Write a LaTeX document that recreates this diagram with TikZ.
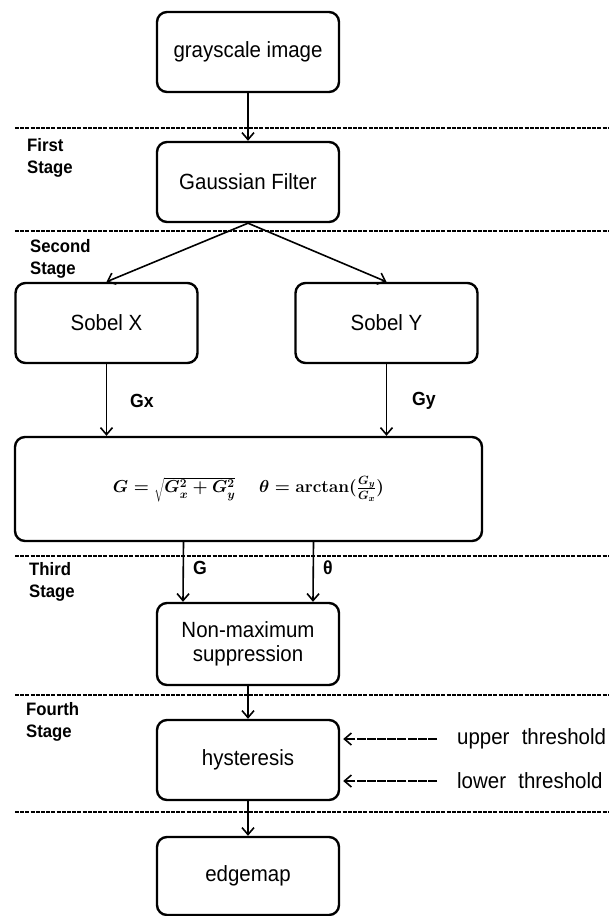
\documentclass[tikz,border=0pt]{standalone}
\usepackage[no-math]{fontspec}
\setmainfont[FakeStretch=0.93]{Liberation Sans}
\usetikzlibrary{arrows.meta,calc}
\begin{document}
\begin{tikzpicture}[x=1pt,y=-1pt,
  box/.style={draw, line width=2.4pt, rounded corners=10pt, minimum width=182pt, minimum height=80pt, inner sep=2pt, align=center, font=\fontsize{22}{24}\selectfont},
  stagelbl/.style={anchor=north west, inner sep=0pt, align=left, font=\bfseries\fontsize{18}{22}\selectfont},
  sep/.style={line width=1.5pt, dash pattern=on 4pt off 1.2pt},
  flow/.style={line width=1.6pt, -{Straight Barb[length=7pt,width=12pt]}},
  thr/.style={line width=1.6pt, dash pattern=on 9pt off 1.2pt, -{Straight Barb[length=7pt,width=12pt]}, shorten >=3pt},
  lbl/.style={font=\bfseries\fontsize{19}{22}\selectfont, inner sep=0pt},
  thrtxt/.style={anchor=west, inner sep=0pt, font=\fontsize{22}{24}\selectfont}
]
\useasboundingbox (0,0) rectangle (609,916);

% separators
\draw[sep] (15,128) -- (609,128);
\draw[sep] (15,231) -- (609,231);
\draw[sep] (15,556) -- (609,556);
\draw[sep] (15,695) -- (609,695);
\draw[sep] (15,812) -- (609,812);

% stage labels
\node[stagelbl] (s1) at (27,138) {First\\Stage};
\node[stagelbl] (s2) at (30,239) {Second\\Stage};
\node[stagelbl] (s3) at (29,562) {Third\\Stage};
\node[stagelbl] (s4) at (26,702) {Fourth\\Stage};

% boxes
\node[box] (gi) at (248,52) {grayscale image};
\node[box] (gf) at (248,182) {Gaussian Filter};
\node[box] (sx) at (106.5,323) {Sobel X};
\node[box] (sy) at (386.5,323) {Sobel Y};
\node[box, minimum width=467pt, minimum height=104pt] (fb) at (248.5,489) {\raisebox{7pt}{\fontsize{18}{22}\selectfont\boldmath$G=\sqrt{G_x^2+G_y^2}\quad\; \theta=\arctan\!\big(\frac{G_y}{G_x}\big)$}};
\node[box, minimum height=82pt] (nm) at (248,644) {Non-maximum\\suppression};
\node[box] (hy) at (248,760) {hysteresis};
\node[box, minimum height=78pt] (em) at (248,876) {edgemap};

% connectors
\draw[flow] (gi.south) -- (gf.north);
\draw[flow] (gf.south) -- (sx.north);
\draw[flow] (gf.south) -- (sy.north);
\draw[flow] (sx.south) -- (sx.south |- fb.north);
\draw[flow] (sy.south) -- (sy.south |- fb.north);
\node[lbl] (gx) at (142,401) {Gx};
\node[lbl] (gy) at (424,401) {Gy};
\draw[flow] ([xshift=-65pt]fb.south) -- ([xshift=-65pt]nm.north);
\draw[flow] ([xshift=65pt]fb.south) -- ([xshift=65pt]nm.north);
\node[lbl] (gl) at (200,568) {G};
\node[lbl] (tl) at (328,568) {θ};
\draw[flow] (nm.south) -- (hy.north);
\draw[flow] (hy.south) -- (em.north);

% thresholds
\coordinate (ua) at (437,739);
\coordinate (la) at (437,781);
\draw[thr] (ua) -- (ua -| hy.east);
\draw[thr] (la) -- (la -| hy.east);
\node[thrtxt] (ut) at (457,739) {upper\hspace{0.3em} threshold};
\node[thrtxt] (lt) at (457,781) {lower\hspace{0.3em} threshold};
\end{tikzpicture}
\end{document}
